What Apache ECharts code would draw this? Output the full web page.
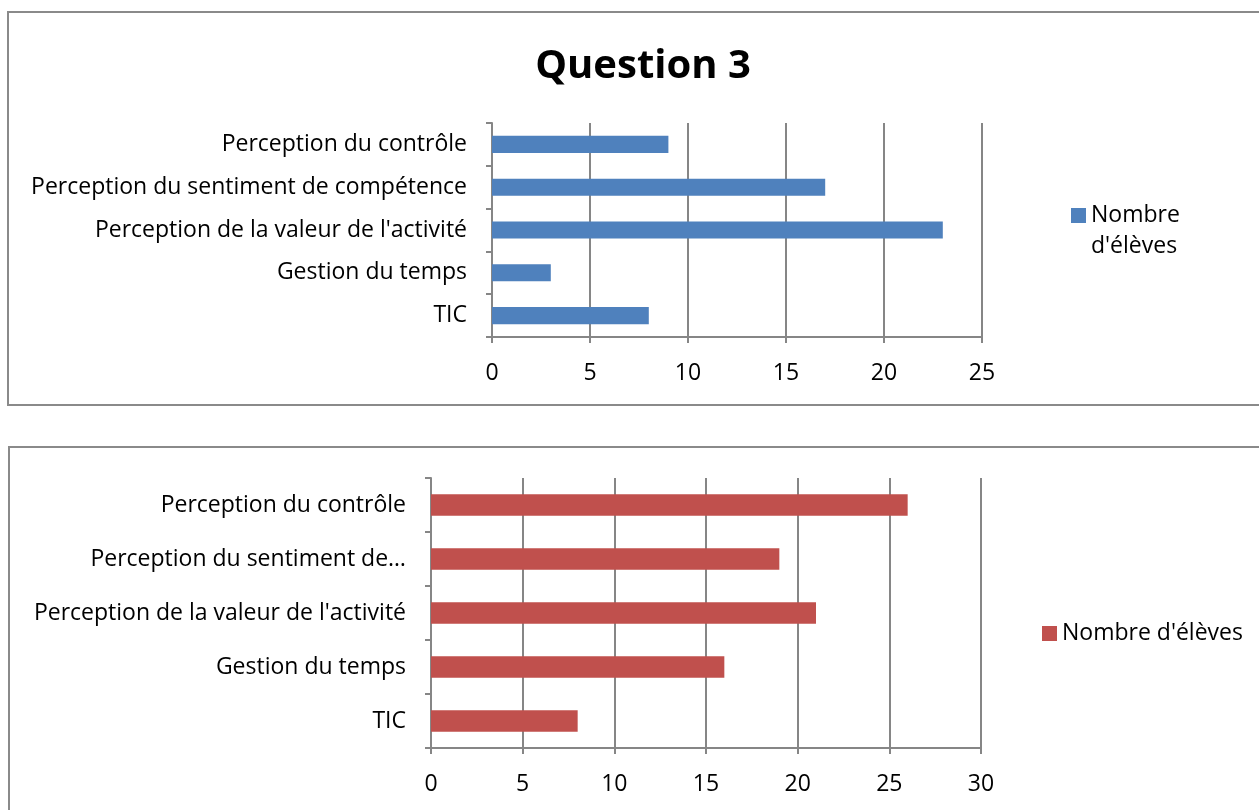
<!DOCTYPE html>
<html>
<head>
<meta charset="utf-8">
<script src="https://cdn.jsdelivr.net/npm/echarts@6/dist/echarts.min.js"></script>
<style>
	html, body { margin: 0; padding: 0; background: #fff; }
	.box {
		position: absolute;
		border: 2px solid #8a8a8a;
		background: #fff;
	}
	#main {
		position: absolute;
		left: 0;
		top: 0;
		width: 1259px;
		height: 810px;
	}
</style>
</head>
<body>
<div class="box" style="left:7px; top:11px; width:1300px; height:391px;"></div>
<div class="box" style="left:8px; top:446px; width:1300px; height:400px;"></div>
<div id="main"></div>
<script>
	// categories, bottom to top (category axis starts at the bottom)
	var categories = ['TIC', 'Gestion du temps', "Perception de la valeur de l'activité", 'Perception du sentiment de compétence', 'Perception du contrôle'];
	// same categories as they appear (cut) in the second chart
	var categoriesShort = ['TIC', 'Gestion du temps', "Perception de la valeur de l'activité", 'Perception du sentiment de…', 'Perception du contrôle'];
	var seriesName = "Nombre d'élèves";
	var q3Values = [8, 3, 23, 17, 9];
	var q3bisValues = [8, 16, 21, 19, 26];
	var topTicks = [0, 5, 10, 15, 20, 25];
	var bottomTicks = [0, 5, 10, 15, 20, 25, 30];

	var font = '"Open Sans", "Noto Sans", sans-serif';
	var gray = '#868686';
	var blue = '#4F81BD';
	var red = '#C0504D';

	function valueAxis(gridIndex, ticks) {
		return {
			type: 'value',
			gridIndex: gridIndex,
			min: ticks[0],
			max: ticks[ticks.length - 1],
			interval: ticks[1] - ticks[0],
			axisLine: { show: true, lineStyle: { color: gray, width: 2 } },
			axisTick: { show: true, length: 6, lineStyle: { color: gray, width: 2 } },
			axisLabel: { color: '#000', fontSize: 23, fontFamily: font, margin: 25 },
			splitLine: { show: true, lineStyle: { color: gray, width: 2 } }
		}
	}

	function catAxis(gridIndex, labels) {
		return {
			type: 'category',
			gridIndex: gridIndex,
			data: labels,
			axisLine: { show: true, lineStyle: { color: gray, width: 2 } },
			axisTick: { show: true, length: 6, lineStyle: { color: gray, width: 2 } },
			axisLabel: { color: '#000', fontSize: 23, fontFamily: font, margin: 25 },
			splitLine: { show: false }
		}
	}

	var myChart = echarts.init(document.getElementById('main'))
	var option = {
		animation: false,
		backgroundColor: 'transparent',
		title: {
			text: 'Question 3',
			left: 638,
			textAlign: 'center',
			top: 42,
			textStyle: { fontSize: 40, fontWeight: 'bold', color: '#000', fontFamily: font }
		},
		legend: [
			{
				data: [{ name: seriesName, itemStyle: { color: blue } }],
				left: 1066,
				top: 164,
				orient: 'vertical',
				itemWidth: 15,
				itemHeight: 15,
				icon: 'rect',
				// blank first line keeps the square level with "Nombre"
				formatter: function () { return '\u00a0\nNombre\nd\'élèves' },
				textStyle: { fontSize: 23, fontFamily: font, color: '#000', lineHeight: 31 },
				selectedMode: false
			},
			{
				data: [{ name: seriesName, itemStyle: { color: red } }],
				left: 1037,
				top: 617,
				itemWidth: 15,
				itemHeight: 15,
				icon: 'rect',
				textStyle: { fontSize: 23, fontFamily: font, color: '#000' },
				selectedMode: false
			}
		],
		grid: [
			{ left: 492, top: 123, width: 490, height: 214 },
			{ left: 431, top: 478, width: 550, height: 270 }
		],
		xAxis: [ valueAxis(0, topTicks), valueAxis(1, bottomTicks) ],
		yAxis: [ catAxis(0, categories), catAxis(1, categoriesShort) ],
		series: [
			{
				name: seriesName,
				type: 'bar',
				xAxisIndex: 0,
				yAxisIndex: 0,
				data: q3Values,
				barCategoryGap: '60%',
				itemStyle: { color: blue }
			},
			{
				name: seriesName,
				type: 'bar',
				xAxisIndex: 1,
				yAxisIndex: 1,
				data: q3bisValues,
				barCategoryGap: '60%',
				itemStyle: { color: red }
			}
		]
	}
	myChart.setOption(option, true)
</script>
</body>
</html>
